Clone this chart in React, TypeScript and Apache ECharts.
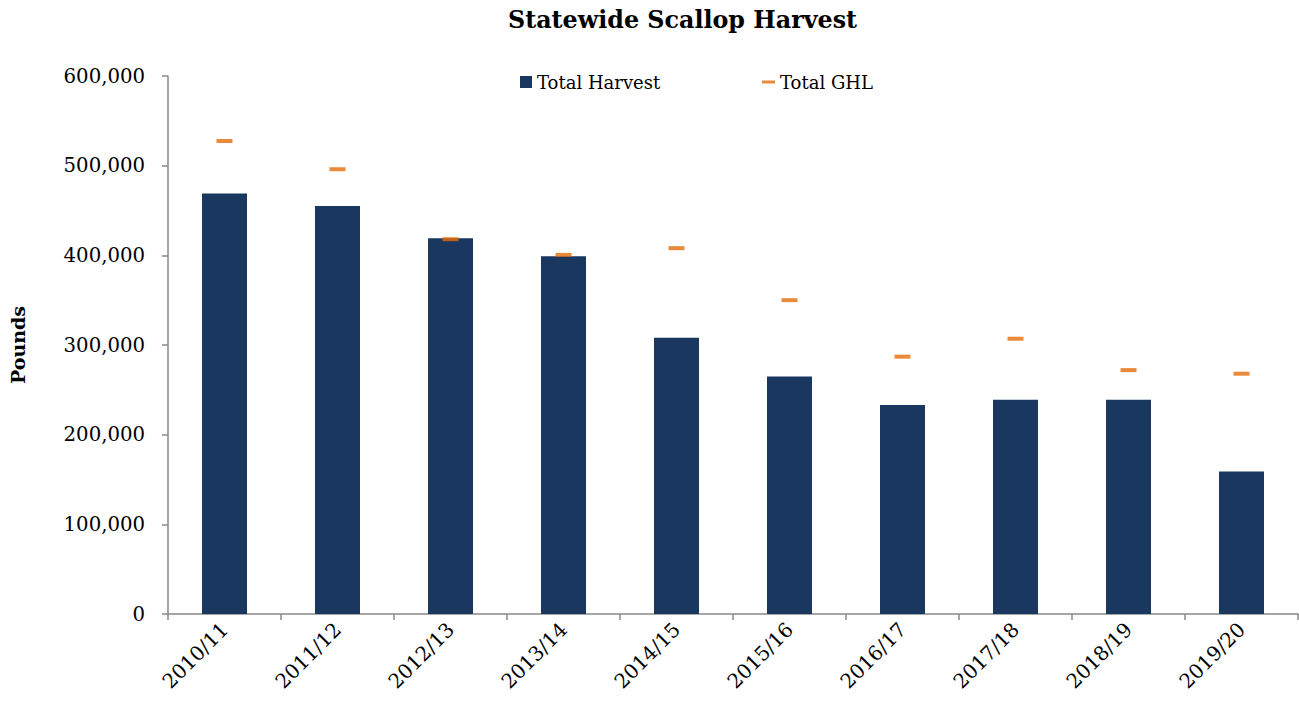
import React, { useEffect, useRef } from "react";
import * as echarts from "echarts";

const categories = ["2010/11", "2011/12", "2012/13", "2013/14", "2014/15", "2015/16", "2016/17", "2017/18", "2018/19", "2019/20"];
const totalHarvest = [469000, 455000, 419000, 399000, 308000, 265000, 233000, 239000, 239000, 159000];
const totalGHL = [527500, 496000, 418000, 400500, 408000, 350000, 287000, 307000, 272000, 268000];

const FONT = "DejaVu Serif";

export default function App() {
  const ref = useRef<HTMLDivElement>(null);
  useEffect(() => {
    if (!ref.current) return;
    const chart = echarts.init(ref.current, undefined, { renderer: "svg" });
    chart.setOption({
      animation: false,
      textStyle: { fontFamily: FONT, color: "#000" },
      title: {
        text: "Statewide Scallop Harvest",
        left: 503,
        top: 3,
        textStyle: { fontFamily: FONT, fontWeight: "bold", fontSize: 23.8, color: "#000" },
      },
      legend: [
        {
          data: [{ name: "Total Harvest", icon: "rect" }],
          left: 515,
          top: 68,
          itemWidth: 12,
          itemHeight: 12,
          itemGap: 6,
          textStyle: { fontFamily: FONT, fontSize: 18, color: "#000" },
        },
        {
          data: ["Total GHL"],
          left: 757,
          top: 68,
          itemWidth: 13,
          itemHeight: 3,
          textStyle: { fontFamily: FONT, fontSize: 18, color: "#000" },
        },
      ],
      grid: { left: 167, right: 1, top: 76, bottom: 96, containLabel: false },
      xAxis: {
        type: "category",
        data: categories,
        axisLine: { lineStyle: { color: "#888", width: 1.5 } },
        axisTick: { show: true, length: 6, lineStyle: { color: "#888", width: 1.5 } },
        axisLabel: { rotate: 45, fontFamily: FONT, fontSize: 20, color: "#000", margin: 12 },
      },
      yAxis: {
        type: "value",
        min: 0,
        max: 600000,
        interval: 100000,
        name: "Pounds",
        nameLocation: "middle",
        nameGap: 141,
        nameTextStyle: { fontFamily: FONT, fontWeight: "bold", fontSize: 19, color: "#000" },
        axisLine: { show: true, lineStyle: { color: "#888", width: 1.5 } },
        axisTick: { show: true, length: 6, lineStyle: { color: "#888", width: 1.5 } },
        splitLine: { show: false },
        axisLabel: {
          fontFamily: FONT,
          fontSize: 19.7,
          color: "#000",
          margin: 23,
          formatter: (v: number) => v.toLocaleString("en-US"),
        },
      },
      series: [
        {
          name: "Total Harvest",
          type: "bar",
          data: totalHarvest,
          barWidth: 45,
          itemStyle: { color: "#1A3760" },
        },
        {
          name: "Total GHL",
          type: "scatter",
          data: totalGHL,
          symbol: "rect",
          symbolSize: [16, 4],
          itemStyle: { color: "#E36C09" },
          z: 5,
        },
      ],
    });
    return () => chart.dispose();
  }, []);
  return <div ref={ref} style={{ position: "absolute", left: 0, top: 0, width: 1299, height: 710 }} />;
}
